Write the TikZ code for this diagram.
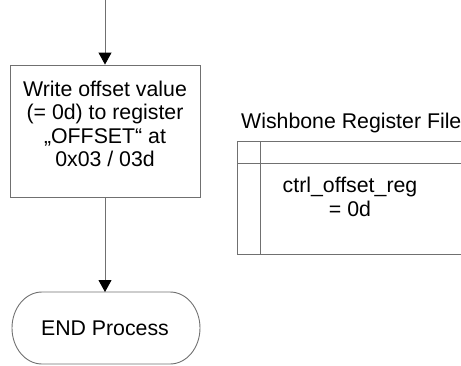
\documentclass[tikz,border=0pt]{standalone}
\usepackage{fontspec}
\setmainfont{Liberation Sans}
\usetikzlibrary{arrows.meta}
\definecolor{linegray}{HTML}{707070}
\tikzset{
  flowline/.style={draw=linegray, line width=0.9pt},
  flowarrow/.style={flowline, -{Triangle[width=13pt,length=12pt,color=black]}},
  procbox/.style={flowline, minimum width=190pt, minimum height=132pt, inner sep=0pt},
  lbl/.style={font=\fontsize{21.3pt}{23.4pt}\selectfont, align=center, inner sep=0pt},
}
\begin{document}
\begin{tikzpicture}[x=1pt,y=1pt]
  \useasboundingbox (0,0) rectangle (461,-365);

  % incoming connector from the previous step
  \coordinate (in) at (105,0);

  % process step: frame and its text (text sits a little above centre)
  \node[procbox] (write) at (105,-131) {};
  \node[lbl] (writetxt) at (105,-124)
    {Write offset value\\(= 0d) to register\\„OFFSET“ at\\0x03 / 03d};

  % terminal: END Process (stadium with elliptic ends)
  \node[lbl] (endp) at (105,-328) {END Process};
  \coordinate (endtop) at (105,-292);
  \draw[flowline] (42,-292) -- (170,-292)
    arc[start angle=90, end angle=-90, x radius=30, y radius=36]
    -- (42,-364)
    arc[start angle=270, end angle=90, x radius=30, y radius=36];

  % connectors
  \draw[flowarrow] (in) -- (write.north);
  \draw[flowarrow] (write.south) -- (endtop);

  % register file
  \node[lbl, anchor=base west] (rftitle) at (241,-128) {Wishbone Register File};
  \draw[flowline] (461,-141) -- (237,-141) -- (237,-254) -- (461,-254);
  \draw[flowline] (237,-163) -- (461,-163);
  \draw[flowline] (260,-141) -- (260,-254);
  \node[lbl] (reg) at (350,-197) {ctrl\_offset\_reg\\= 0d};
\end{tikzpicture}
\end{document}
